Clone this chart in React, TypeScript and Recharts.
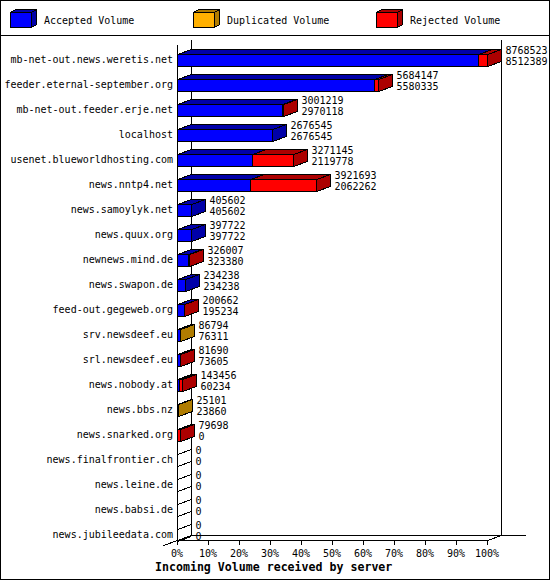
import { BarChart, Bar, XAxis, YAxis } from "recharts";

const servers = [
  "mb-net-out.news.weretis.net",
  "feeder.eternal-september.org",
  "mb-net-out.feeder.erje.net",
  "localhost",
  "usenet.blueworldhosting.com",
  "news.nntp4.net",
  "news.samoylyk.net",
  "news.quux.org",
  "newnews.mind.de",
  "news.swapon.de",
  "feed-out.gegeweb.org",
  "srv.newsdeef.eu",
  "srl.newsdeef.eu",
  "news.nobody.at",
  "news.bbs.nz",
  "news.snarked.org",
  "news.finalfrontier.ch",
  "news.leine.de",
  "news.babsi.de",
  "news.jubileedata.com",
];

const accepted = [
  8512389, 5580335, 2970118, 2676545, 2119778, 2062262, 405602, 397722, 323380,
  234238, 195234, 76311, 73605, 60234, 23860, 0, 0, 0, 0, 0,
];

const duplicated = [
  0, 0, 0, 0, 0, 0, 0, 0, 0, 0, 0, 10483, 0, 0, 1241, 0, 0, 0, 0, 0,
];

const rejected = [
  256134, 103812, 31101, 0, 1151367, 1859431, 0, 0, 2627, 0, 5428, 0, 8085,
  83222, 0, 79698, 0, 0, 0, 0,
];

const tickLabels = [
  "0%", "10%", "20%", "30%", "40%", "50%", "60%", "70%", "80%", "90%", "100%",
];

const series = [
  { key: "accepted", name: "Accepted Volume", front: "#0000ff", dark: "#0000a8" },
  { key: "duplicated", name: "Duplicated Volume", front: "#ffb000", dark: "#b07c00" },
  { key: "rejected", name: "Rejected Volume", front: "#ff0000", dark: "#ac0000" },
];

const rows = servers.map((name, i) => ({
  name,
  accepted: accepted[i],
  duplicated: duplicated[i],
  rejected: rejected[i],
  total: accepted[i] + duplicated[i] + rejected[i],
}));

const maxTotal = Math.max(...rows.map((r) => r.total));
const tickValues = tickLabels.map((_, i) => (maxTotal * i) / (tickLabels.length - 1));

const FONT = "'DejaVu Sans Mono', monospace";
const DX = 14;
const DY = 5;

// frame geometry (px)
const LEFT = 177;
const RIGHT = 487;
const TOP = 45;
const FLOOR = 540;

const Box3D = (props: any) => {
  const { x, y, width, height, front, dark, withLabels, payload } = props;
  if (x == null || y == null) return null;
  const x0 = Math.round(x) + 0.5;
  const x1 = Math.round(x + width) + 0.5;
  const y0 = Math.round(y) + 0.5;
  const y1 = Math.round(y + height) + 0.5;
  // a zero segment leaves only its outline (the hatch on the left wall)
  const empty = !(width > 0);
  const top = `${x0},${y0} ${x0 + DX},${y0 - DY} ${x1 + DX},${y0 - DY} ${x1},${y0}`;
  const side = `${x1},${y0} ${x1 + DX},${y0 - DY} ${x1 + DX},${y1 - DY} ${x1},${y1}`;
  return (
    <g shapeRendering="crispEdges">
      {!empty && <polygon points={top} fill={dark} stroke="#000" />}
      {empty ? (
        <g stroke="#000">
          <line x1={x1} y1={y0} x2={x1 + DX} y2={y0 - DY} />
          <line x1={x1} y1={y1} x2={x1 + DX} y2={y1 - DY} />
        </g>
      ) : (
        <polygon points={side} fill={dark} stroke="#000" />
      )}
      {!empty && (
        <rect x={x0} y={y0} width={x1 - x0} height={y1 - y0} fill={front} stroke="#000" />
      )}
      {withLabels && payload && (
        <g fontFamily={FONT} fontSize={10} fill="#000">
          <text x={x1 + DX + 4} y={y0 - 4} dominantBaseline="central">
            {payload.total}
          </text>
          <text x={x1 + DX + 4} y={y0 + 7} dominantBaseline="central">
            {payload.accepted}
          </text>
        </g>
      )}
    </g>
  );
};

const XTick = (props: any) => {
  const { x, y, index } = props;
  const tx = Math.round(x) + 0.5;
  return (
    <g>
      <line x1={tx} x2={tx} y1={y - 7} y2={y - 2} stroke="#000" shapeRendering="crispEdges" />
      <text x={x} y={y + 6} textAnchor="middle" dominantBaseline="central" fontFamily={FONT} fontSize={10} fill="#000">
        {tickLabels[index]}
      </text>
    </g>
  );
};

const YTick = (props: any) => {
  const { x, y, payload } = props;
  return (
    <text x={x} y={y - 0.5} textAnchor="end" dominantBaseline="central" fontFamily={FONT} fontSize={10} fill="#000">
      {payload.value}
    </text>
  );
};

const Frame = () => (
  <svg width={550} height={580} style={{ position: "absolute", left: 0, top: 0 }} shapeRendering="crispEdges">
    <rect x={0.5} y={0.5} width={549} height={579} fill="#fff" stroke="#000" />
    <line x1={0} x2={550} y1={35.5} y2={35.5} stroke="#000" />
    {series.map((s, i) => {
      const bx = 10 + 183 * i + 0.5;
      const by = 12.5;
      return (
        <g key={s.key}>
          <polygon points={`${bx},${by} ${bx + 5},${by - 3} ${bx + 26},${by - 3} ${bx + 21},${by}`} fill={s.dark} stroke="#000" />
          <polygon points={`${bx + 21},${by} ${bx + 26},${by - 3} ${bx + 26},${by + 12} ${bx + 21},${by + 15}`} fill={s.dark} stroke="#000" />
          <rect x={bx} y={by} width={21} height={15} fill={s.front} stroke="#000" />
          <text x={bx + 33.5} y={20.5} dominantBaseline="central" fontFamily={FONT} fontSize={10} fill="#000">
            {s.name}
          </text>
        </g>
      );
    })}
    <g stroke="#000" fill="none">
      <line x1={LEFT + 0.5} x2={LEFT + 0.5} y1={TOP} y2={FLOOR + 1} />
      <line x1={LEFT + DX + 0.5} x2={LEFT + DX + 0.5} y1={TOP - DY} y2={FLOOR - DY + 1} />
      <line x1={RIGHT + DX + 0.5} x2={RIGHT + DX + 0.5} y1={TOP - DY} y2={FLOOR - DY + 1} />
      <line x1={LEFT} x2={RIGHT + 1} y1={FLOOR + 0.5} y2={FLOOR + 0.5} />
      <line x1={LEFT + DX} x2={526} y1={FLOOR - DY + 0.5} y2={FLOOR - DY + 0.5} />
      <line x1={RIGHT + 0.5} y1={FLOOR + 0.5} x2={RIGHT + DX + 0.5} y2={FLOOR - DY + 0.5} />
      <line x1={LEFT - DX + 0.5} y1={FLOOR + DY + 0.5} x2={LEFT + DX + 0.5} y2={FLOOR - DY + 0.5} />
    </g>
    <text x={155} y={567} dominantBaseline="central" fontFamily={FONT} fontWeight="bold" fontSize={11.6} fill="#000">
      Incoming Volume received by server
    </text>
  </svg>
);

export default function App() {
  return (
    <div style={{ position: "absolute", left: 0, top: 0, width: 550, height: 580 }}>
      <Frame />
      <div style={{ position: "absolute", left: 0, top: 0 }}>
        <BarChart
          width={550}
          height={580}
          data={rows}
          layout="vertical"
          margin={{ top: 47, right: 63, bottom: 3, left: 7 }}
        >
          <XAxis
            type="number"
            domain={[0, maxTotal]}
            ticks={tickValues}
            interval={0}
            height={30}
            axisLine={false}
            tickLine={false}
            tickSize={0}
            tickMargin={0}
            tick={<XTick />}
          />
          <YAxis
            type="category"
            dataKey="name"
            width={170}
            interval={0}
            axisLine={false}
            tickLine={false}
            tickSize={0}
            tickMargin={4}
            tick={<YTick />}
          />
          {series.map((s, i) => (
            <Bar
              key={s.key}
              dataKey={s.key}
              name={s.name}
              stackId="vol"
              barSize={12}
              isAnimationActive={false}
              shape={(p: any) => (
                <Box3D {...p} front={s.front} dark={s.dark} withLabels={i === series.length - 1} />
              )}
            />
          ))}
        </BarChart>
      </div>
    </div>
  );
}
